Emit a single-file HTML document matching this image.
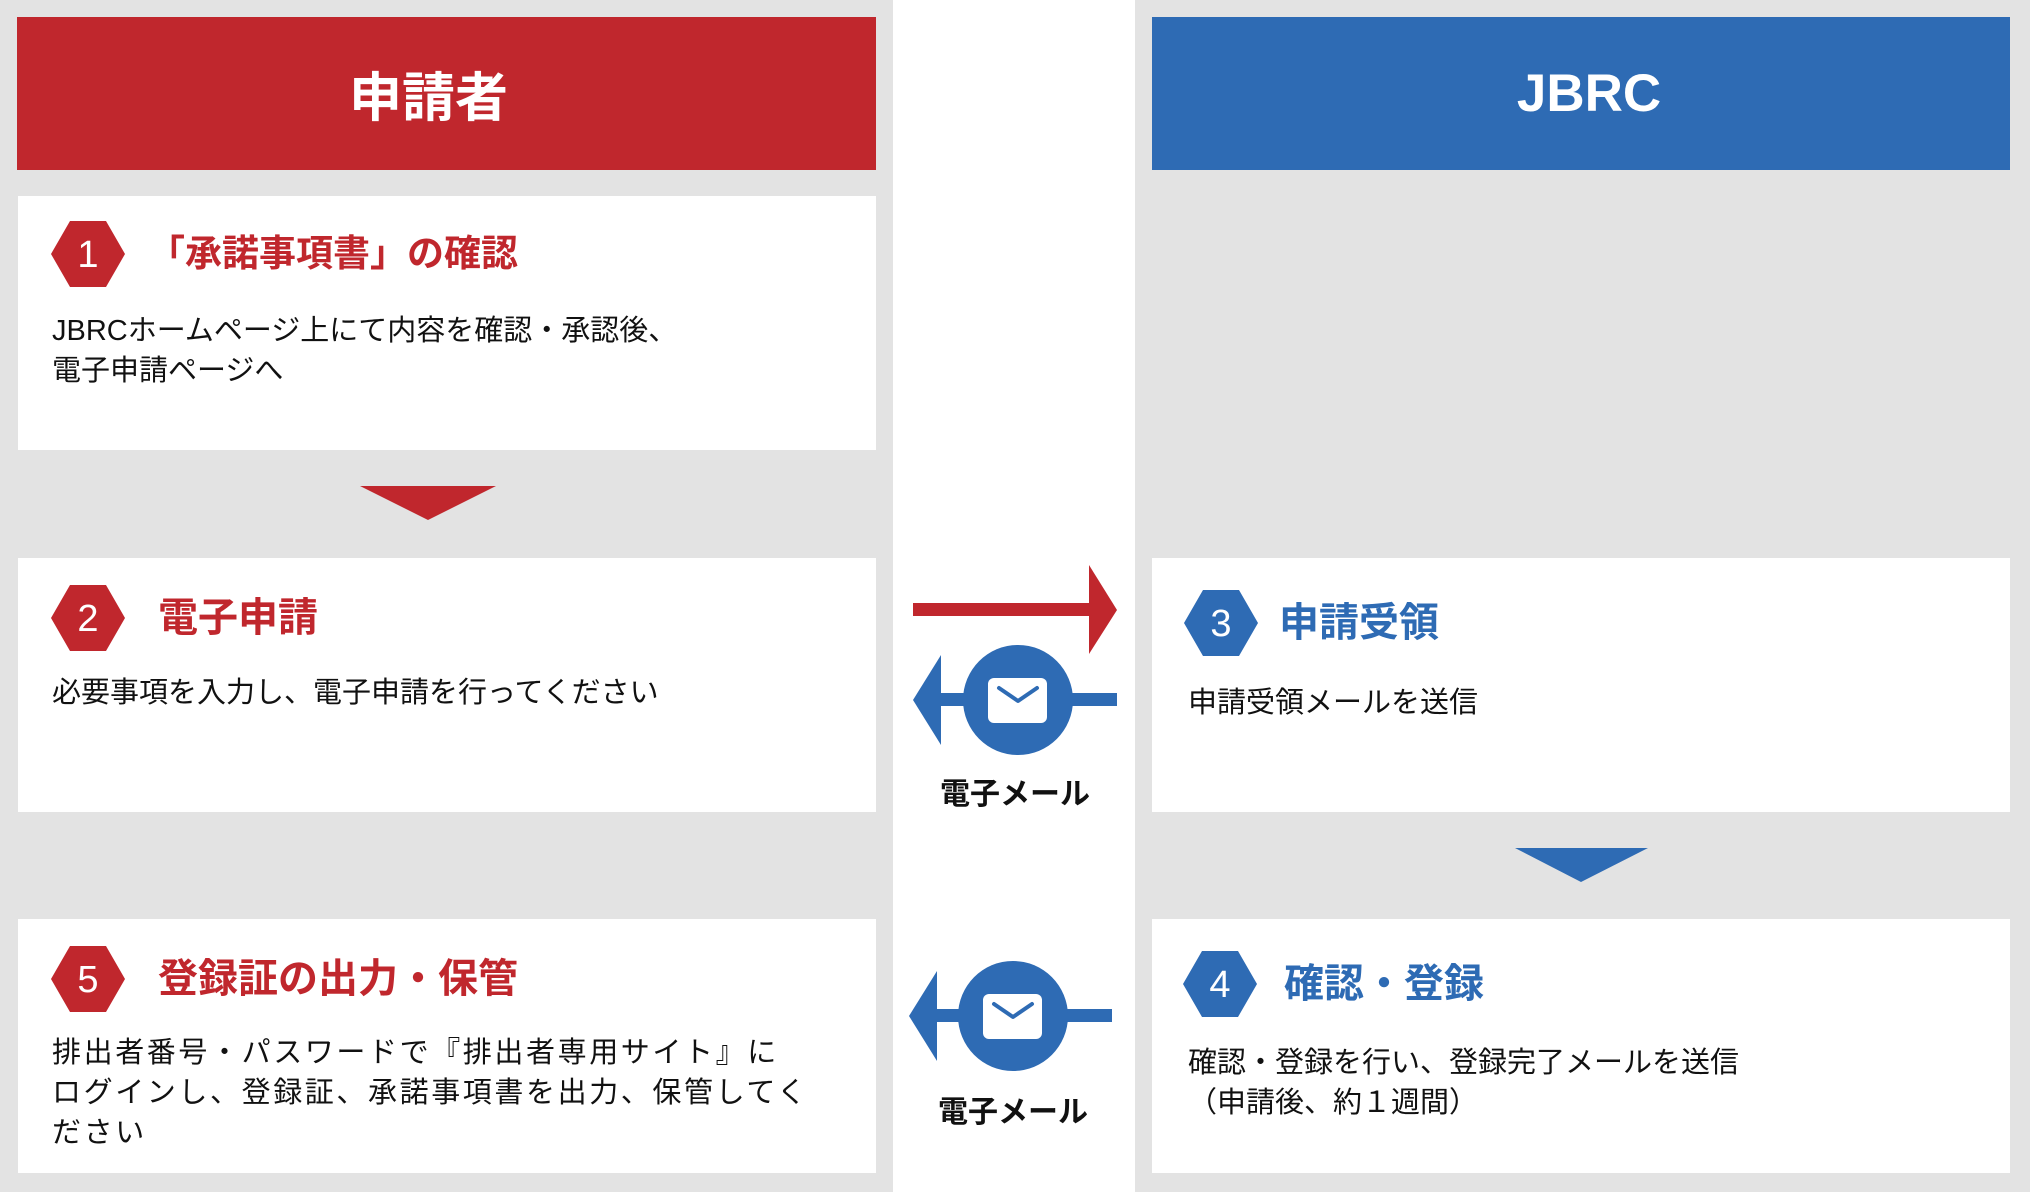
<!DOCTYPE html>
<html><head><meta charset="utf-8">
<style>
*{margin:0;padding:0;box-sizing:border-box}
body{width:2030px;height:1192px;position:relative;background:#fff;font-family:"Liberation Sans","Noto Sans CJK JP",sans-serif;overflow:hidden}
.a{position:absolute}
.g{background:#e3e3e3}
.box{position:absolute;background:#fff}
.hd{position:absolute;color:#fff;font-weight:bold;font-size:53px;display:flex;align-items:center;justify-content:center}
.t{position:absolute;font-weight:bold;font-size:40px;line-height:40px;white-space:nowrap}
.b{position:absolute;font-size:29px;line-height:40px;color:#111;white-space:nowrap}
.r{color:#c0272d}.bl{color:#2e6bb4}
.lab{position:absolute;font-weight:bold;font-size:30px;width:200px;text-align:center;line-height:36px;color:#111}
</style></head><body>
<div class="a g" style="left:0;top:0;width:893px;height:1192px"></div>
<div class="a g" style="left:1135px;top:0;width:895px;height:1192px"></div>

<div class="hd" style="left:17px;top:17px;width:859px;height:153px;background:#c0272d"><span style="position:relative;left:-18px">申請者</span></div>
<div class="hd" style="left:1152px;top:17px;width:858px;height:153px;background:#2e6bb4"><span style="position:relative;left:8px">JBRC</span></div>

<div class="box" style="left:18px;top:196px;width:858px;height:254px"></div>
<div class="box" style="left:18px;top:558px;width:858px;height:254px"></div>
<div class="box" style="left:18px;top:919px;width:858px;height:254px"></div>
<div class="box" style="left:1152px;top:558px;width:858px;height:254px"></div>
<div class="box" style="left:1152px;top:919px;width:858px;height:254px"></div>

<svg class="a" style="left:0;top:0" width="2030" height="1192">
<polygon points="360,486 496,486 428,520" fill="#c0272d"/>
<polygon points="1515,848 1648,848 1581,882" fill="#2e6bb4"/>
<g font-family="Liberation Sans, sans-serif" font-size="38" fill="#fff" text-anchor="middle">
<polygon points="51,254 70,221 106,221 125,254 106,287 70,287" fill="#c0272d"/><text x="88" y="267">1</text>
<polygon points="51,618 70,585 106,585 125,618 106,651 70,651" fill="#c0272d"/><text x="88" y="631">2</text>
<polygon points="51,979 70,946 106,946 125,979 106,1012 70,1012" fill="#c0272d"/><text x="88" y="992">5</text>
<polygon points="1184,623 1203,590 1239,590 1258,623 1239,656 1203,656" fill="#2e6bb4"/><text x="1221" y="636">3</text>
<polygon points="1183,984 1202,951 1238,951 1257,984 1238,1017 1202,1017" fill="#2e6bb4"/><text x="1220" y="997">4</text>
</g>
<rect x="913" y="603" width="178" height="13" fill="#c0272d"/>
<polygon points="1089,565 1117,610 1089,654" fill="#c0272d"/>
<rect x="935" y="693" width="182" height="13" fill="#2e6bb4"/>
<polygon points="913,700 941,655 941,745" fill="#2e6bb4"/>
<circle cx="1018" cy="700" r="55" fill="#2e6bb4"/>
<rect x="988" y="678" width="59" height="45" rx="6" fill="#fff"/>
<polyline points="999,688 1018,701 1037,688" fill="none" stroke="#2e6bb4" stroke-width="4" stroke-linecap="round" stroke-linejoin="round"/>
<rect x="931" y="1009" width="181" height="13" fill="#2e6bb4"/>
<polygon points="909,1016 937,971 937,1061" fill="#2e6bb4"/>
<circle cx="1013" cy="1016" r="55" fill="#2e6bb4"/>
<rect x="983" y="994" width="59" height="45" rx="6" fill="#fff"/>
<polyline points="994,1004 1013,1017 1032,1004" fill="none" stroke="#2e6bb4" stroke-width="4" stroke-linecap="round" stroke-linejoin="round"/>
</svg>

<div class="lab" style="left:915px;top:777px">電子メール</div>
<div class="lab" style="left:913px;top:1095px">電子メール</div>

<div class="t r" style="left:148px;top:234px;font-size:37px">「承諾事項書」の確認</div>
<div class="b" style="left:52px;top:311px">JBRCホームページ上にて内容を確認・承認後、<br>電子申請ページへ</div>

<div class="t r" style="left:158px;top:598px">電子申請</div>
<div class="b" style="left:52px;top:673px">必要事項を入力し、電子申請を行ってください</div>

<div class="t r" style="left:158px;top:959px">登録証の出力・保管</div>
<div class="b" style="left:52px;top:1033px;letter-spacing:2.6px">排出者番号・パスワードで『排出者専用サイト』に<br>ログインし、登録証、承諾事項書を出力、保管してく<br>ださい</div>

<div class="t bl" style="left:1279px;top:603px">申請受領</div>
<div class="b" style="left:1188px;top:683px">申請受領メールを送信</div>

<div class="t bl" style="left:1284px;top:964px">確認・登録</div>
<div class="b" style="left:1188px;top:1043px">確認・登録を行い、登録完了メールを送信<br>（申請後、約１週間）</div>
</body></html>
